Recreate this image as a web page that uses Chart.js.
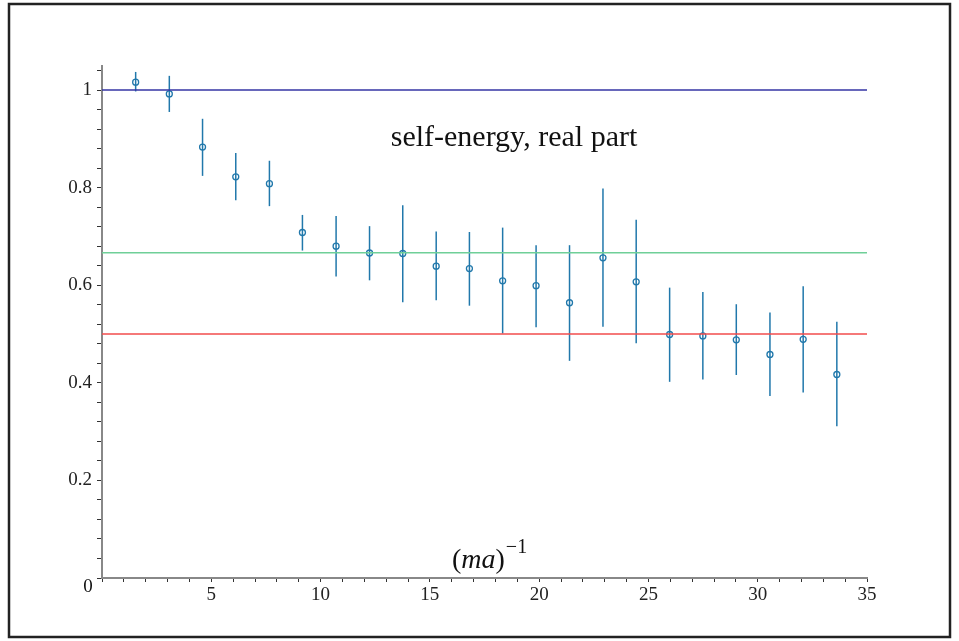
<!DOCTYPE html>
<html>
<head>
<meta charset="utf-8">
<script src="https://cdn.jsdelivr.net/npm/chart.js@4.4.0/dist/chart.umd.min.js"></script>
<style>
  html, body { margin: 0; padding: 0; background: #fff; }
  #wrap { width: 959px; height: 641px; position: relative; }
</style>
</head>
<body>
<div id="wrap"><canvas id="chart"></canvas></div>
<script>
// (ma)^-1 values of the measured points
const xVals = [1.54, 3.08, 4.60, 6.12, 7.66, 9.17, 10.71, 12.24, 13.76, 15.29, 16.81,
  18.33, 19.86, 21.39, 22.92, 24.44, 25.97, 27.49, 29.02, 30.56, 32.08, 33.62];
// central values
const yVals = [1.016, 0.992, 0.883, 0.822, 0.808, 0.708, 0.680, 0.666, 0.665, 0.639, 0.634,
  0.609, 0.599, 0.564, 0.656, 0.607, 0.499, 0.496, 0.488, 0.458, 0.489, 0.417];
// error bar ends
const yHigh = [1.037, 1.029, 0.941, 0.871, 0.855, 0.744, 0.742, 0.721, 0.764, 0.710, 0.709,
  0.718, 0.682, 0.682, 0.798, 0.734, 0.595, 0.586, 0.561, 0.544, 0.598, 0.525];
const yLow = [0.997, 0.955, 0.824, 0.774, 0.762, 0.671, 0.618, 0.610, 0.565, 0.569, 0.558,
  0.501, 0.514, 0.445, 0.515, 0.481, 0.402, 0.407, 0.416, 0.373, 0.380, 0.311];
// horizontal reference levels
const refLevels = [1, 0.6667, 0.5];
const refColors = ['#3434a4', '#6fcf98', '#f24c4c'];

const xRange = [0, 35];
const yRange = [0, 1.05];

const serif = '"Liberation Serif", "Times New Roman", serif';
const barColor = '#2178ab';

// error bars go under the circle markers
const errorBars = {
  id: 'errorBars',
  beforeDatasetsDraw(chart) {
    const { ctx, scales: { x, y } } = chart;
    ctx.save();
    ctx.strokeStyle = barColor;
    ctx.lineWidth = 1.5;
    xVals.forEach((xv, i) => {
      const px = x.getPixelForValue(xv);
      ctx.beginPath();
      ctx.moveTo(px, y.getPixelForValue(yLow[i]));
      ctx.lineTo(px, y.getPixelForValue(yHigh[i]));
      ctx.stroke();
    });
    ctx.restore();
  }
};

// title, axis label, origin label and outer frame
const decorations = {
  id: 'decorations',
  afterDraw(chart) {
    const { ctx, scales: { x, y } } = chart;
    ctx.save();
    ctx.fillStyle = '#111';

    ctx.font = '30px ' + serif;
    ctx.textAlign = 'center';
    ctx.textBaseline = 'alphabetic';
    ctx.fillText('self-energy, real part', 514, 146);

    // (ma)^-1
    let cx = 452;
    const base = 568;
    ctx.textAlign = 'left';
    ctx.font = '28px ' + serif;
    ctx.fillText('(', cx, base);
    cx += ctx.measureText('(').width;
    ctx.font = 'italic 28px ' + serif;
    ctx.fillText('ma', cx, base);
    cx += ctx.measureText('ma').width;
    ctx.font = '28px ' + serif;
    ctx.fillText(')', cx, base);
    cx += ctx.measureText(')').width;
    ctx.font = '20px ' + serif;
    ctx.fillText('\u22121', cx + 1, base - 15);

    // shared origin label
    ctx.font = '19px ' + serif;
    ctx.textAlign = 'center';
    ctx.textBaseline = 'middle';
    ctx.fillText('0', x.getPixelForValue(0) - 14, y.getPixelForValue(0) + 9);

    ctx.strokeStyle = '#222';
    ctx.lineWidth = 2.5;
    ctx.strokeRect(9, 4, 941, 633);
    ctx.restore();
  }
};

const datasets = refLevels.map((lvl, i) => ({
  type: 'line',
  data: [{ x: xRange[0], y: lvl }, { x: xRange[1], y: lvl }],
  borderColor: refColors[i],
  borderWidth: 1.5,
  pointRadius: 0,
  fill: false
}));

datasets.push({
  type: 'scatter',
  data: xVals.map((xv, i) => ({ x: xv, y: yVals[i] })),
  borderColor: barColor,
  backgroundColor: 'rgba(0,0,0,0)',
  borderWidth: 1.3,
  pointRadius: 3,
  pointStyle: 'circle'
});

new Chart(document.getElementById('chart'), {
  type: 'scatter',
  data: { datasets: datasets },
  options: {
    responsive: true,
    maintainAspectRatio: false,
    animation: false,
    devicePixelRatio: 1,
    layout: { padding: { top: 65.6, right: 92, left: 0, bottom: 0 } },
    plugins: {
      legend: { display: false },
      tooltip: { enabled: false }
    },
    scales: {
      x: {
        type: 'linear',
        min: xRange[0],
        max: xRange[1],
        afterFit: (scale) => { scale.height = 63; },
        border: { display: true, color: '#888', width: 2 },
        grid: { drawOnChartArea: false, drawTicks: true, tickLength: 4, tickColor: '#333' },
        ticks: {
          stepSize: 1,
          autoSkip: false,
          maxRotation: 0,
          includeBounds: false,
          padding: 2,
          color: '#222',
          font: { family: serif, size: 19 },
          callback: (v) => (v % 5 === 0 && v !== 0 ? String(v) : '')
        }
      },
      y: {
        type: 'linear',
        min: yRange[0],
        max: yRange[1],
        afterFit: (scale) => { scale.width = 102; },
        border: { display: true, color: '#888', width: 2 },
        grid: { drawOnChartArea: false, drawTicks: true, tickLength: 5, tickColor: '#333' },
        ticks: {
          stepSize: 0.04,
          autoSkip: false,
          includeBounds: false,
          padding: 5,
          color: '#222',
          font: { family: serif, size: 19 },
          callback: (v) => {
            const k = Math.round(v * 100);
            if (k === 0 || k % 20 !== 0) return '';
            return String(k / 100);
          }
        }
      }
    }
  },
  plugins: [errorBars, decorations]
});
</script>
</body>
</html>
